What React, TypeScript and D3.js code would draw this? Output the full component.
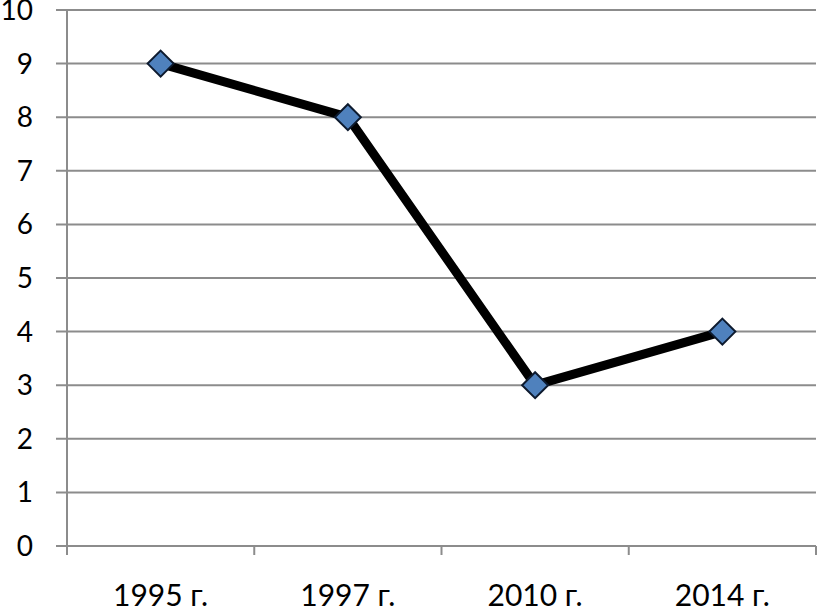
import React from "react";
import * as d3 from "d3";

const categories = ["1995 г.", "1997 г.", "2010 г.", "2014 г."];
const values = [9, 8, 3, 4];
const yTicks = [0, 1, 2, 3, 4, 5, 6, 7, 8, 9, 10];

export default function App() {
  const W = 818, H = 607;
  const left = 67, right = 816, top = 10, bottom = 546;
  const x = d3.scaleBand<string>().domain(categories).range([left, right]);
  const y = d3.scaleLinear().domain([0, 10]).range([bottom, top]);
  const line = d3.line<number>()
    .x((_, i) => (x(categories[i]) as number) + x.bandwidth() / 2)
    .y((d) => y(d));
  const grid = "#8c8c8c";
  const font = "Lato, 'Open Sans', sans-serif";
  const r = 13;
  const bounds = [...categories.map((c) => x(c) as number), right];
  return (
    <svg width={W} height={H} style={{ position: "absolute", left: 0, top: 0, background: "#fff" }}>
      {yTicks.map((t) => (
        <g key={t}>
          <line x1={56} x2={right} y1={y(t)} y2={y(t)} stroke={grid} strokeWidth={2} />
          <text x={33} y={y(t) + 10} textAnchor="end" fontFamily={font} fontSize={28} fill="#000">{t}</text>
        </g>
      ))}
      <line x1={left} x2={left} y1={top} y2={555} stroke={grid} strokeWidth={2} />
      {bounds.map((b, i) => (
        <line key={i} x1={b} x2={b} y1={bottom} y2={555} stroke={grid} strokeWidth={2} />
      ))}
      {categories.map((c) => (
        <text key={c} x={(x(c) as number) + x.bandwidth() / 2} y={606} textAnchor="middle" fontFamily={font} fontSize={30} fill="#000">{c}</text>
      ))}
      <path d={line(values) as string} fill="none" stroke="#000" strokeWidth={9} strokeLinejoin="round" />
      {values.map((v, i) => {
        const cx = (x(categories[i]) as number) + x.bandwidth() / 2;
        const cy = y(v);
        return (
          <path key={i} d={`M${cx},${cy - r}L${cx + r},${cy}L${cx},${cy + r}L${cx - r},${cy}Z`}
            fill="#4f81bd" stroke="#0d1a2e" strokeWidth={2} />
        );
      })}
    </svg>
  );
}
